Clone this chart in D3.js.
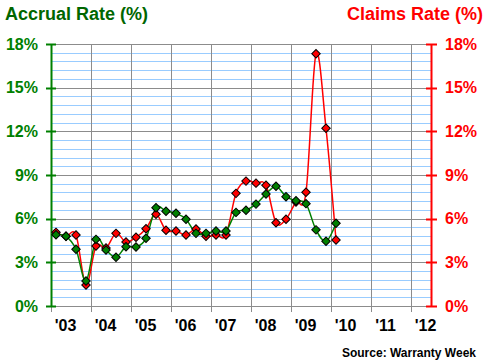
<!DOCTYPE html>
<html><head><meta charset="utf-8">
<script src="https://cdn.jsdelivr.net/npm/d3@7"></script>
<style>body{margin:0;background:#fff}svg{display:block}text{font-family:"Liberation Sans",Arial,sans-serif}</style>
</head><body><svg id="c" width="486" height="364"></svg>
<script>
const years = ["03","04","05","06","07","08","09","10","11","12"];
const quarterNames = ["Q1","Q2","Q3","Q4"];
const yTicks = [0,3,6,9,12,15,18];
// 2003Q1 .. 2010Q1
const accrual = [4.90,4.79,3.90,1.72,4.58,3.85,3.35,4.07,4.05,4.65,6.75,6.51,6.37,5.96,4.99,4.99,5.15,5.15,6.43,6.58,7.00,7.69,8.23,7.51,7.23,7.03,5.23,4.45,5.69];
const claims  = [5.06,4.79,4.88,1.44,4.12,3.98,4.99,4.40,4.72,5.31,6.30,5.20,5.15,4.88,5.29,4.79,4.88,4.88,7.74,8.58,8.44,8.30,5.72,5.96,7.15,7.81,17.33,12.21,4.53];

const quarters = [];
years.forEach(y => quarterNames.forEach(q => quarters.push(y + q)));
const cats = quarters.slice(0, 38);

const svg = d3.select("#c");
const L = 51, R = 431, T = 44, B = 306;
const x = d3.scaleBand().domain(cats).range([L, R]);
const y = d3.scaleLinear().domain([0, 18]).range([B, T]);
const green = "#008000", red = "#ff0000";

// minor gridlines
const minor = d3.range(0, 18.001, 0.6).filter(v => Math.abs(v/3 - Math.round(v/3)) > 1e-6);
svg.append("g").selectAll("line").data(minor).join("line")
  .attr("x1", L).attr("x2", R).attr("y1", d => Math.round(y(d))+0.5).attr("y2", d => Math.round(y(d))+0.5)
  .attr("stroke", "#99ccff").attr("stroke-width", 1);
// major horizontal
svg.append("g").selectAll("line").data(yTicks.filter(d => d > 0)).join("line")
  .attr("x1", L).attr("x2", R).attr("y1", d => Math.round(y(d))+0.5).attr("y2", d => Math.round(y(d))+0.5)
  .attr("stroke", "#8c8c8c").attr("stroke-width", 1);
// vertical year lines
const yearStarts = years.map(yy => yy + "Q1");
svg.append("g").selectAll("line").data(yearStarts.slice(1)).join("line")
  .attr("x1", d => Math.round(x(d))+0.5).attr("x2", d => Math.round(x(d))+0.5).attr("y1", T).attr("y2", B)
  .attr("stroke", "#8c8c8c").attr("stroke-width", 1);

// bottom axis
svg.append("line").attr("x1", L).attr("x2", R).attr("y1", B+0.5).attr("y2", B+0.5).attr("stroke", "#8c8c8c");
svg.append("g").selectAll("line").data(yearStarts).join("line")
  .attr("x1", d => Math.round(x(d))+0.5).attr("x2", d => Math.round(x(d))+0.5).attr("y1", B).attr("y2", B+6)
  .attr("stroke", "#8c8c8c");
svg.append("g").selectAll("text").data(years).join("text")
  .attr("x", d => x(d + "Q2") + x.bandwidth()/2 - 0.5).attr("y", 331)
  .attr("text-anchor", "middle").attr("font-size", 16).attr("font-weight", "bold").attr("fill", "#000")
  .text(d => "'" + d);

// left axis
svg.append("line").attr("x1", L+0.5).attr("x2", L+0.5).attr("y1", T).attr("y2", B).attr("stroke", green).attr("stroke-width", 2);
svg.append("g").selectAll("line").data(yTicks).join("line")
  .attr("x1", L-5).attr("x2", L+5).attr("y1", d => Math.round(y(d))+0.5).attr("y2", d => Math.round(y(d))+0.5)
  .attr("stroke", green).attr("stroke-width", 2);
svg.append("g").selectAll("text").data(yTicks).join("text")
  .attr("x", 38).attr("y", d => y(d)).attr("dy", "0.36em").attr("text-anchor", "end")
  .attr("font-size", 16).attr("font-weight", "bold").attr("fill", green).text(d => d + "%");

// right axis
svg.append("line").attr("x1", R+0.5).attr("x2", R+0.5).attr("y1", T).attr("y2", B).attr("stroke", red).attr("stroke-width", 2);
svg.append("g").selectAll("line").data(yTicks).join("line")
  .attr("x1", R-5).attr("x2", R+6).attr("y1", d => Math.round(y(d))+0.5).attr("y2", d => Math.round(y(d))+0.5)
  .attr("stroke", red).attr("stroke-width", 2);
svg.append("g").selectAll("text").data(yTicks).join("text")
  .attr("x", 445).attr("y", d => y(d)).attr("dy", "0.36em").attr("text-anchor", "start")
  .attr("font-size", 16).attr("font-weight", "bold").attr("fill", red).text(d => d + "%");

// titles
svg.append("text").attr("x", 5).attr("y", 19.5).attr("font-size", 18).attr("font-weight", "bold").attr("fill", "#006600").text("Accrual Rate (%)");
svg.append("text").attr("x", 483).attr("y", 19.5).attr("text-anchor", "end").attr("font-size", 18).attr("font-weight", "bold").attr("fill", red).text("Claims Rate (%)");
svg.append("text").attr("x", 476).attr("y", 357).attr("text-anchor", "end").attr("font-size", 12).attr("font-weight", "bold").attr("fill", "#000").text("Source: Warranty Week");

const cx = (d, i) => x(cats[i]) + x.bandwidth()/2;
const line = d3.line().x((d, i) => cx(d, i)).y(d => y(d)).curve(d3.curveCatmullRom.alpha(0));
const diamond = d3.symbol().type(d3.symbolSquare).size(36);

function series(vals, color) {
  svg.append("path").attr("d", line(vals)).attr("fill", "none").attr("stroke", color).attr("stroke-width", 1.5);
}
function markers(vals, color) {
  svg.append("g").selectAll("path").data(vals).join("path")
    .attr("d", diamond)
    .attr("transform", (d, i) => `translate(${cx(d, i)},${y(d)}) rotate(45)`)
    .attr("fill", color).attr("stroke", "#000").attr("stroke-width", 1);
}
series(claims, red);
series(accrual, green);
markers(claims, red);
markers(accrual, green);
</script></body></html>
